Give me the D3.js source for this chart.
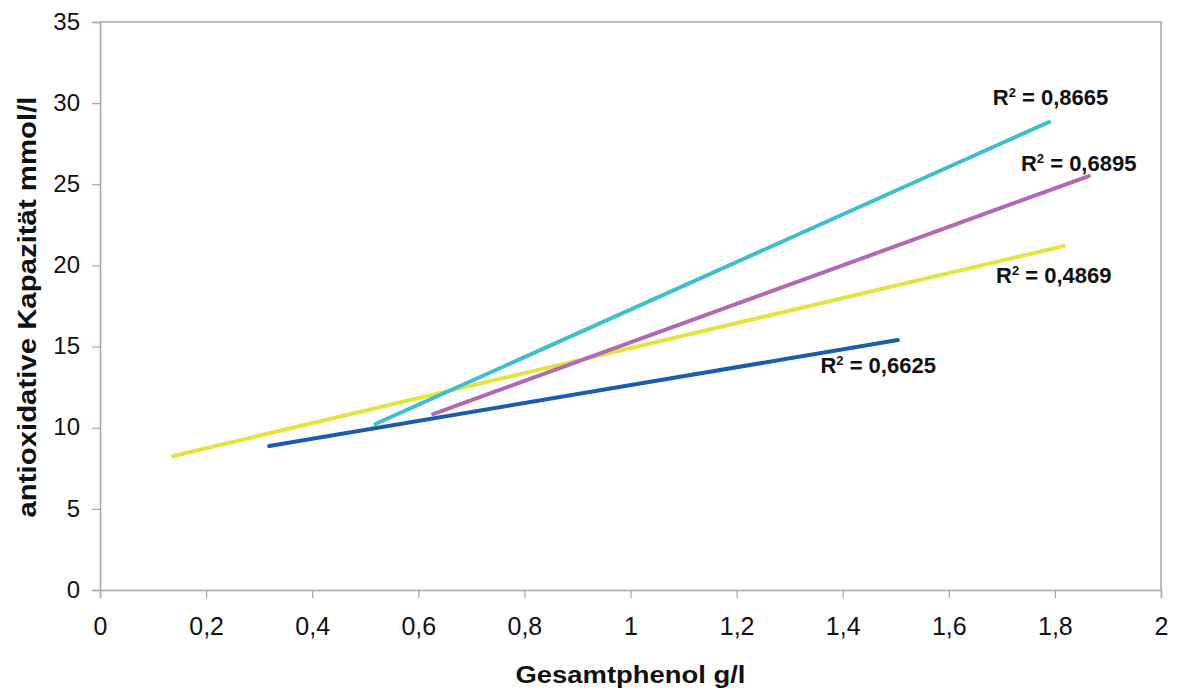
<!DOCTYPE html>
<html>
<head>
<meta charset="utf-8">
<script src="https://cdn.jsdelivr.net/npm/d3@7"></script>
<style>
  body { margin: 0; background: #fff; }
  text { font-family: "Liberation Sans", Arial, sans-serif; }
</style>
</head>
<body>
<div id="chart"></div>
<script>
// trend lines: start and end point of each fitted line
var series_names = ["gelb", "blau", "tuerkis", "violett"];
var series_colors = ["#e6e43c", "#1c5cae", "#3dbfcd", "#b169b4"];
var x_start = [0.138, 0.319, 0.519, 0.628];
var y_start = [8.26, 8.87, 10.23, 10.84];
var x_end = [1.817, 1.504, 1.789, 1.864];
var y_end = [21.2, 15.4, 28.84, 25.51];
var r2_values = ["0,4869", "0,6625", "0,8665", "0,6895"];
// where the R² labels sit, in data units
var label_x = [1.689, 1.358, 1.683, 1.736];
var label_y = [18.92, 13.37, 29.88, 25.82];

var x_ticks = [0, 0.2, 0.4, 0.6, 0.8, 1, 1.2, 1.4, 1.6, 1.8, 2];
var y_ticks = [0, 5, 10, 15, 20, 25, 30, 35];

var margin = {top: 22, right: 16, bottom: 101, left: 100},
    totalWidth = 1177,
    totalHeight = 691,
    width = totalWidth - margin.left - margin.right,
    height = totalHeight - margin.top - margin.bottom;

var svg = d3.select("#chart").append("svg")
    .attr("width", totalWidth)
    .attr("height", totalHeight);
var g = svg.append("g")
    .attr("transform", "translate(" + margin.left + "," + margin.top + ")");

var x_scale = d3.scaleLinear().domain([0, 2]).range([0, width]);
var y_scale = d3.scaleLinear().domain([0, 35]).range([height, 0]);

var fmt = function(d) { return String(d).replace(".", ","); };

// frame top + right
g.append("path")
    .attr("d", "M0,0H" + width + "V" + height)
    .attr("fill", "none")
    .attr("stroke", "#a6a6a6")
    .attr("stroke-width", 1.5);

var xAxis = d3.axisBottom(x_scale).tickValues(x_ticks).tickFormat(fmt).tickSize(8).tickPadding(19);
var yAxis = d3.axisLeft(y_scale).tickValues(y_ticks).tickFormat(fmt).tickSize(8).tickPadding(12);

var gx = g.append("g").attr("transform", "translate(0," + height + ")").call(xAxis);
var gy = g.append("g").call(yAxis);
[gx, gy].forEach(function(a) {
  a.select(".domain").attr("stroke", "#a6a6a6").attr("stroke-width", 1.5);
  a.selectAll(".tick line").attr("stroke", "#a6a6a6").attr("stroke-width", 1.2);
  a.selectAll(".tick text")
    .attr("fill", "#111")
    .style("font-family", "'Liberation Sans', Arial, sans-serif");
});
gx.selectAll(".tick text").style("font-size", "25px");
gy.selectAll(".tick text").style("font-size", "24px").attr("dy", "0.3em");

// lines
var rows = series_names.map(function(n, i) {
  return {name: n, color: series_colors[i], x0: x_start[i], y0: y_start[i], x1: x_end[i], y1: y_end[i],
          r2: r2_values[i], lx: label_x[i], ly: label_y[i]};
});

g.append("g")
  .selectAll("line")
  .data(rows)
  .enter()
  .append("line")
    .attr("x1", function(d) { return x_scale(d.x0); })
    .attr("y1", function(d) { return y_scale(d.y0); })
    .attr("x2", function(d) { return x_scale(d.x1); })
    .attr("y2", function(d) { return y_scale(d.y1); })
    .attr("stroke", function(d) { return d.color; })
    .attr("stroke-width", 4)
    .attr("stroke-linecap", "round");

var labels = g.append("g")
  .selectAll("text")
  .data(rows)
  .enter()
  .append("text")
    .attr("x", function(d) { return x_scale(d.lx); })
    .attr("y", function(d) { return y_scale(d.ly); })
    .attr("fill", "#111")
    .style("font-weight", "bold")
    .style("font-size", "22px");
labels.append("tspan").text("R");
labels.append("tspan").text("2").style("font-size", "13px").attr("dy", -8);
labels.append("tspan").text(function(d) { return " = " + d.r2; }).attr("dy", 8);

// axis titles
svg.append("text")
    .attr("x", margin.left + width / 2)
    .attr("y", 683)
    .attr("text-anchor", "middle")
    .attr("textLength", 230)
    .attr("lengthAdjust", "spacingAndGlyphs")
    .style("font-weight", "bold")
    .style("font-size", "23px")
    .attr("fill", "#111")
    .text("Gesamtphenol g/l");

svg.append("text")
    .attr("transform", "translate(36,307) rotate(-90)")
    .attr("text-anchor", "middle")
    .attr("textLength", 421)
    .attr("lengthAdjust", "spacingAndGlyphs")
    .style("font-weight", "bold")
    .style("font-size", "26px")
    .attr("fill", "#111")
    .text("antioxidative Kapazität mmol/l");
</script>
</body>
</html>
